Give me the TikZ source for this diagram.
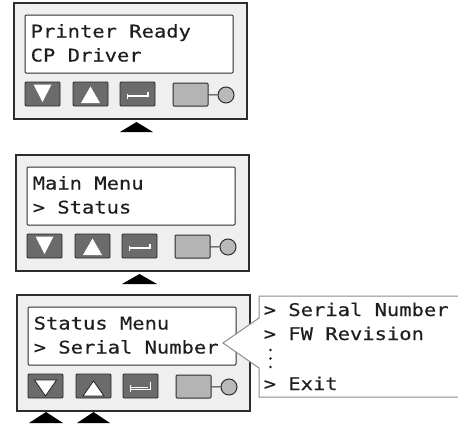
\documentclass[tikz,border=0pt]{standalone}
\usepackage{fontspec}
\newfontfamily\lcdfont[FakeStretch=1.17,FakeBold=0.4]{DejaVu Sans Mono}
\definecolor{panelbg}{RGB}{239,239,239}
\definecolor{edgec}{RGB}{45,45,45}
\definecolor{btn}{RGB}{107,107,107}
\definecolor{boxg}{RGB}{180,180,180}
\definecolor{ledg}{RGB}{185,185,185}
\definecolor{callg}{RGB}{140,140,140}
\definecolor{txt}{RGB}{30,30,30}
\tikzset{
  panel/.style={fill=panelbg, draw=edgec, line width=1.2pt},
  lcd/.style={fill=white, draw=edgec, line width=1pt, rounded corners=1pt},
  key/.style={fill=btn, draw=black!85, line width=0.9pt, rounded corners=1pt},
  gbox/.style={fill=boxg, draw=edgec, line width=1pt, rounded corners=1pt, minimum width=35pt, minimum height=23pt, inner sep=0pt},
  gled/.style={circle, fill=ledg, draw=edgec, line width=1pt, minimum size=16pt, inner sep=0pt},
  wire/.style={draw=edgec, line width=1pt},
  lcdtext/.style={font=\lcdfont\fontsize{17.5}{20}\selectfont, text=txt, inner sep=0pt, anchor=base west},
  keysym/.style={fill=white},
  keysymo/.style={fill=white, draw=black!85, line width=0.8pt, line join=miter},
  entersym/.style={draw=white, line width=1.2pt},
  entersymo/.style={draw=white, double=btn, double distance=1.4pt, line width=0.8pt},
  pointer/.style={fill=black},
  callout/.style={fill=white, draw=callg, line width=1pt},
  dotmark/.style={fill=txt}
}
\newcommand\devpanel[3]{%
  \draw[panel] (0,0) rectangle (233,116);
  \draw[lcd] (11,12) rectangle (219,70);
  \node[lcdtext] (#1a) at (16.5,34.5) {#2};
  \node[lcdtext] (#1b) at (16.5,58.5) {#3};
  \draw[key] (11,79) rectangle (46,103);
  \draw[key] (59,79) rectangle (94,103);
  \draw[key] (106,79) rectangle (141,103);
  \node[gbox] (#1box) at (176.5,91.5) {};
  \node[gled] (#1led) at (212,92) {};
  \draw[wire] (#1box) -- (#1led);
}
\newcommand\plainkeys{%
  \fill[keysym] (19.5,81.5) -- (37.5,81.5) -- (28.5,99) -- cycle;
  \fill[keysym] (67,100) -- (86,100) -- (76.5,83.5) -- cycle;
  \draw[entersym] (134,88.5) -- (134,93) -- (112.5,93);
  \draw[entersym, line width=0.8pt] (113,90.5) -- (113,95.5);
}
\begin{document}
\begin{tikzpicture}[x=1pt, y=-1pt]
\useasboundingbox (0,0) rectangle (458,426);
% panel 1
\begin{scope}[shift={(14,3)}]
  \devpanel{pa}{Printer Ready}{CP Driver}
  \plainkeys
\end{scope}
\fill[pointer] (120,132) -- (153,132) -- (136.5,122) -- cycle;
% panel 2
\begin{scope}[shift={(16,155)}]
  \devpanel{pb}{Main Menu}{> Status}
  \plainkeys
\end{scope}
\fill[pointer] (122,284) -- (157,284) -- (139.5,274) -- cycle;
% panel 3
\begin{scope}[shift={(17,295)}]
  \devpanel{pc}{Status Menu}{> Serial Number}
  \draw[keysymo] (17.5,85) -- (39.5,85) -- (28.5,101) -- cycle;
  \draw[keysymo] (66,101) -- (87,101) -- (76.5,86) -- cycle;
  \draw[entersymo] (132,87) -- (132,93.5) -- (112,93.5);
  \draw[entersymo] (112,90) -- (112,97);
\end{scope}
\fill[pointer] (29,423) -- (63,423) -- (46,412) -- cycle;
\fill[pointer] (77,423) -- (110,423) -- (93.5,412) -- cycle;
% callout
\draw[callout] (458,296) -- (259,296) -- (259,318) -- (223,343) -- (259,368) -- (259,397) -- (458,397);
\node[lcdtext] (ca) at (263.5,316) {> Serial Number};
\node[lcdtext] (cb) at (263.5,340) {> FW Revision};
\node[lcdtext] (cc) at (263.5,390) {> Exit};
\fill[dotmark] (270.5,350) circle (1.3);
\fill[dotmark] (270.5,358.5) circle (1.3);
\fill[dotmark] (270.5,367) circle (1.3);
\end{tikzpicture}
\end{document}
